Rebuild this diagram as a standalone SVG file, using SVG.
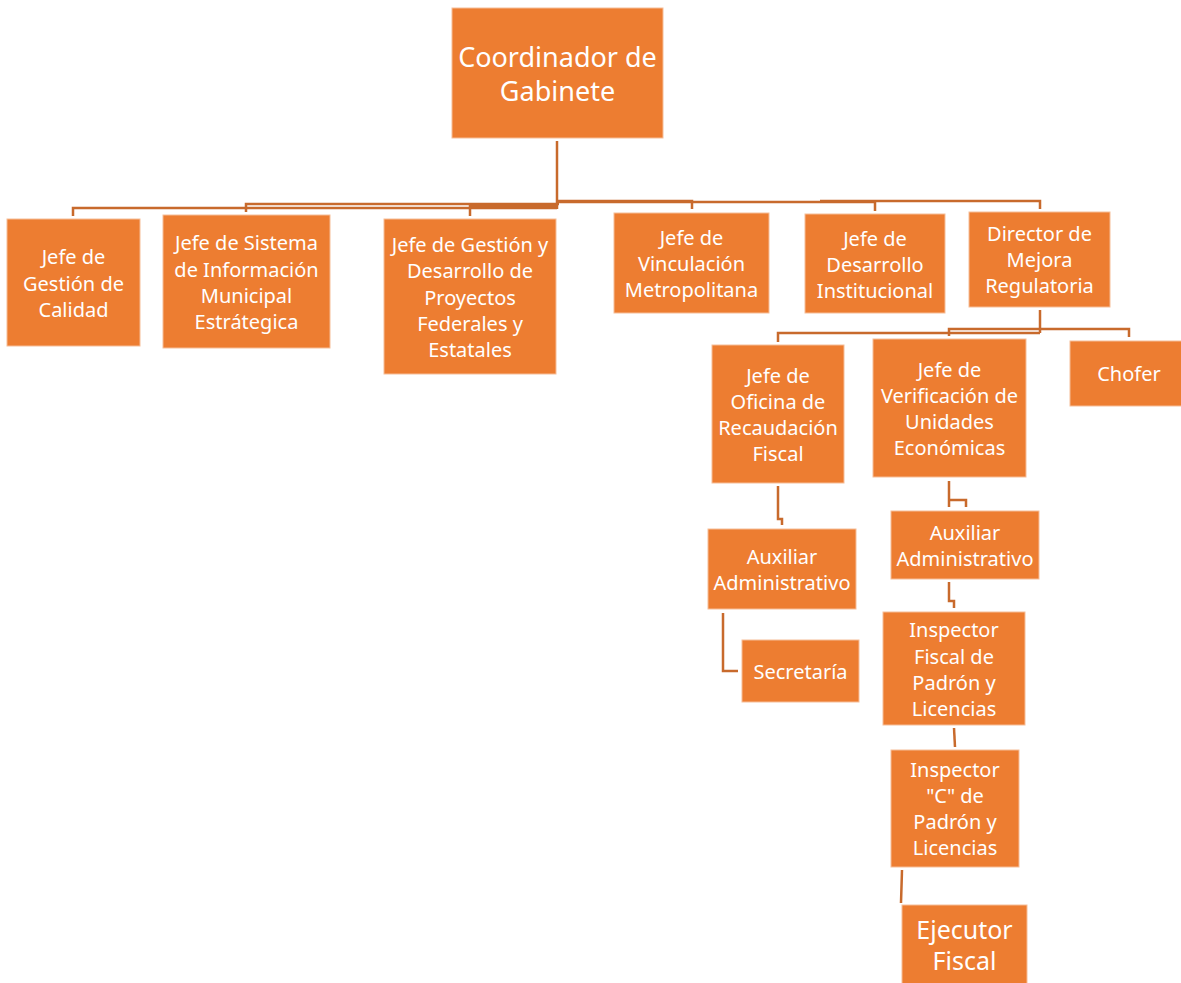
<svg xmlns="http://www.w3.org/2000/svg" width="1181" height="983" viewBox="0 0 1181 983">
  <style>
    .box { fill: #ED7D31; stroke: #F6BE98; stroke-width: 1; }
    .lbl { fill: #ffffff; font-family: "Noto Sans", "Open Sans", sans-serif; font-size: 20px; text-anchor: middle; dominant-baseline: central; }
    .big { font-size: 27px; }
    .mid { font-size: 25px; }
    .conn { fill: none; stroke: #C86A2C; stroke-width: 2.5; }
  </style>
  <rect width="1181" height="983" fill="#ffffff"/>

  <!-- connectors -->
  <g id="connectors">
    <path class="conn" d="M557 141 V209"/>
    <path class="conn" d="M557 208 H73 V216"/>
    <path class="conn" d="M559 204 H246 V212"/>
    <path class="conn" d="M557 206 H470 V216"/>
    <path class="conn" d="M557 201 H692 V209"/>
    <path class="conn" d="M557 202 H875 V211"/>
    <path class="conn" d="M820 201 H1040 V209"/>
    <path class="conn" d="M1040 310 V333"/>
    <path class="conn" d="M1040 333 H778 V342"/>
    <path class="conn" d="M1040 329 H949 V336"/>
    <path class="conn" d="M1040 329 H1129 V337"/>
    <path class="conn" d="M778 486 V519 H782 V525"/>
    <path class="conn" d="M949 481 V507 M949 500 H966 V507"/>
    <path class="conn" d="M949 582 V601 H954 V608"/>
    <path class="conn" d="M723 613 V671 H738"/>
    <path class="conn" d="M954 728 L955 747"/>
    <path class="conn" d="M902 870 L901 903"/>
  </g>

  <g id="coordinador">
    <rect class="box" x="452" y="8" width="211" height="130"/>
    <text class="lbl big" x="557.5" y="56">Coordinador de</text>
    <text class="lbl big" x="557.5" y="90">Gabinete</text>
  </g>

  <g id="calidad">
    <rect class="box" x="7" y="219" width="133" height="127"/>
    <text class="lbl" x="73.5" y="256">Jefe de</text>
    <text class="lbl" x="73.5" y="283">Gestión de</text>
    <text class="lbl" x="73.5" y="309">Calidad</text>
  </g>

  <g id="sistema">
    <rect class="box" x="163" y="215" width="167" height="133"/>
    <text class="lbl" x="246.5" y="242">Jefe de Sistema</text>
    <text class="lbl" x="246.5" y="269">de Información</text>
    <text class="lbl" x="246.5" y="295">Municipal</text>
    <text class="lbl" x="246.5" y="321">Estrátegica</text>
  </g>

  <g id="proyectos">
    <rect class="box" x="384" y="219" width="172" height="155"/>
    <text class="lbl" x="470" y="244">Jefe de Gestión y</text>
    <text class="lbl" x="470" y="270">Desarrollo de</text>
    <text class="lbl" x="470" y="297">Proyectos</text>
    <text class="lbl" x="470" y="323">Federales y</text>
    <text class="lbl" x="470" y="349">Estatales</text>
  </g>

  <g id="vinculacion">
    <rect class="box" x="614" y="213" width="155" height="100"/>
    <text class="lbl" x="691.5" y="237">Jefe de</text>
    <text class="lbl" x="691.5" y="263">Vinculación</text>
    <text class="lbl" x="691.5" y="289">Metropolitana</text>
  </g>

  <g id="institucional">
    <rect class="box" x="805" y="214" width="140" height="99"/>
    <text class="lbl" x="875" y="238">Jefe de</text>
    <text class="lbl" x="875" y="264">Desarrollo</text>
    <text class="lbl" x="875" y="290">Institucional</text>
  </g>

  <g id="director">
    <rect class="box" x="969" y="212" width="141" height="95"/>
    <text class="lbl" x="1039.5" y="233">Director de</text>
    <text class="lbl" x="1039.5" y="259">Mejora</text>
    <text class="lbl" x="1039.5" y="285">Regulatoria</text>
  </g>

  <g id="recaudacion">
    <rect class="box" x="712" y="345" width="132" height="138"/>
    <text class="lbl" x="778" y="375">Jefe de</text>
    <text class="lbl" x="778" y="401">Oficina de</text>
    <text class="lbl" x="778" y="427">Recaudación</text>
    <text class="lbl" x="778" y="453">Fiscal</text>
  </g>

  <g id="verificacion">
    <rect class="box" x="873" y="339" width="153" height="138"/>
    <text class="lbl" x="949.5" y="369">Jefe de</text>
    <text class="lbl" x="949.5" y="395">Verificación de</text>
    <text class="lbl" x="949.5" y="421">Unidades</text>
    <text class="lbl" x="949.5" y="447">Económicas</text>
  </g>

  <g id="chofer">
    <rect class="box" x="1070" y="341" width="112" height="65"/>
    <text class="lbl" x="1129" y="373">Chofer</text>
  </g>

  <g id="auxiliar-recaudacion">
    <rect class="box" x="708" y="529" width="148" height="80"/>
    <text class="lbl" x="782" y="556">Auxiliar</text>
    <text class="lbl" x="782" y="582">Administrativo</text>
  </g>

  <g id="auxiliar-verificacion">
    <rect class="box" x="891" y="511" width="148" height="68"/>
    <text class="lbl" x="965" y="532">Auxiliar</text>
    <text class="lbl" x="965" y="558">Administrativo</text>
  </g>

  <g id="secretaria">
    <rect class="box" x="742" y="640" width="117" height="62"/>
    <text class="lbl" x="800.5" y="671">Secretaría</text>
  </g>

  <g id="inspector-fiscal">
    <rect class="box" x="883" y="612" width="142" height="113"/>
    <text class="lbl" x="954" y="629">Inspector</text>
    <text class="lbl" x="954" y="656">Fiscal de</text>
    <text class="lbl" x="954" y="682">Padrón y</text>
    <text class="lbl" x="954" y="708">Licencias</text>
  </g>

  <g id="inspector-c">
    <rect class="box" x="891" y="750" width="128" height="117"/>
    <text class="lbl" x="955" y="769">Inspector</text>
    <text class="lbl" x="955" y="795">"C" de</text>
    <text class="lbl" x="955" y="821">Padrón y</text>
    <text class="lbl" x="955" y="847">Licencias</text>
  </g>

  <g id="ejecutor">
    <rect class="box" x="902" y="905" width="125" height="79"/>
    <text class="lbl mid" x="964.5" y="929">Ejecutor</text>
    <text class="lbl mid" x="964.5" y="960">Fiscal</text>
  </g>
</svg>
